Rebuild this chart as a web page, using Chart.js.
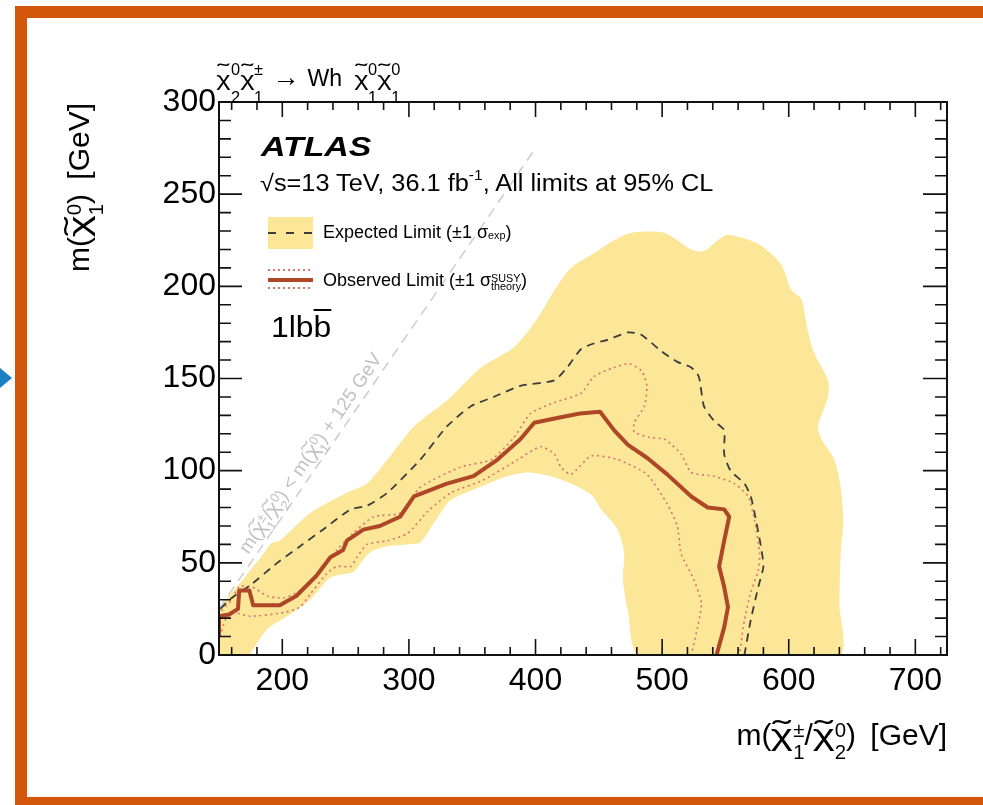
<!DOCTYPE html>
<html lang="en">

<head>
    <meta charset="UTF-8">
    <title>Wh exclusion limits</title>
    <script src="https://cdn.jsdelivr.net/npm/chart.js"></script>
    <style>
        body { margin: 0; background: #fff; }
        #wrap { position: relative; width: 983px; height: 805px; overflow: hidden;
                font-family: "Liberation Sans", Arial, Helvetica, sans-serif; color: #000; }
        canvas { position: absolute; left: 0; top: 0; }
        .abs { position: absolute; white-space: nowrap; line-height: 1; }
        .frame { position: absolute; background: #d4560b; }
        #arrow { position: absolute; left: 0; top: 368px; width: 0; height: 0;
                 border-top: 10px solid transparent; border-bottom: 10px solid transparent;
                 border-left: 12px solid #1b7fc3; }
        /* chi with a tilde on top (ROOT's symbol chi is wide, so stretch it a bit) */
        .chi { position: relative; display: inline-block; line-height: 1; font-size: var(--cs, 1em);
               transform: scaleX(var(--sx, 1.35)); margin: 0 var(--cm, 0.09em); }
        .chi::before { content: "\02DC"; position: absolute; left: 0; right: 0; text-align: center;
                       top: var(--t, -0.15em); transform: scaleX(1.3); }
        /* stacked super/subscript */
        .ss { display: inline-grid; font-size: var(--f, 0.68em); line-height: 1; }
        .ss > span { grid-area: 1 / 1; position: relative; }
        .ss > .u { top: var(--u, -8px); }
        .ss > .d { top: var(--d, 12px); }
        .leg-box { position: absolute; left: 268px; top: 217px; width: 45px; height: 32px; background: #fce697; }
        .dash { position: absolute; left: 268px; top: 232px; width: 45px; height: 2px;
                background: repeating-linear-gradient(90deg, #3c3c3c 0 8px, transparent 8px 18px); }
        .solid { position: absolute; left: 268px; top: 278px; width: 45px; height: 4px; background: #ae4628; }
        .dots { position: absolute; left: 268px; width: 45px; height: 2px;
                background: repeating-linear-gradient(90deg, #d8746a 0 2px, transparent 2px 5px); }
    </style>
    <script>
        // expected +-1 sigma band: outer edge left to right, then inner edge back to the left
        const bandX = [150, 150, 169, 184, 192, 198, 222, 251, 267, 283, 304, 330, 357, 383, 401, 415, 428, 446, 462, 475,
            502, 523, 533, 544, 552, 576, 594, 602, 610, 615, 620, 631, 631, 623, 626, 636, 641, 643, 641, 640, 640,
            482, 473, 469, 470, 465, 452, 444, 428, 412, 394, 378, 359, 333, 320, 309, 298, 283, 270, 262, 256, 238,
            222, 204, 188, 174];
        const bandY = [0, 24, 41, 54, 61, 62, 77, 88, 93, 106, 124, 138, 156, 167, 182, 198, 210, 218, 225, 229,
            229, 220, 219, 225, 228, 223, 212, 198, 193, 176, 164, 149, 140, 124, 117, 106, 91, 73, 55, 28, 0,
            0, 24, 41, 55, 68, 79, 87, 93, 97, 99, 97, 92, 84, 72, 61, 60, 59, 56, 50, 45, 42,
            30, 21, 14, 0];

        // expected limit (dashed)
        const expX = [151, 160, 175, 196, 214, 232, 254, 267, 283, 309, 330, 349, 367, 388, 415, 425, 436, 446, 457, 473,
            483, 499, 512, 523, 529, 533, 541, 549, 549, 554, 565, 570, 573, 578, 580, 576, 570, 565];
        const expY = [25, 31, 38, 50, 59, 68, 79, 81, 88, 106, 124, 135, 140, 146, 149, 156, 166, 169, 171, 175,
            174, 165, 159, 156, 151, 135, 127, 122, 109, 100, 93, 86, 77, 59, 48, 37, 19, 0];

        // observed limit (solid)
        const obsX = [150, 150, 158, 165, 166, 174, 177, 198, 211, 227, 238, 248, 251, 264, 277, 293, 304, 330, 351, 370,
            388, 399, 420, 435, 451, 462, 473, 488, 504, 523, 536, 549, 553, 549, 545, 549, 552, 549, 543];
        const obsY = [10, 21, 22, 25, 35, 35, 27, 27, 32, 43, 53, 57, 62, 68, 70, 75, 86, 93, 97, 106,
            117, 126, 129, 131, 132, 122, 114, 107, 98, 86, 80, 79, 75, 62, 48, 37, 26, 15, 0];

        // observed +1 sigma theory (dotted)
        const obsUpX = [152, 160, 166, 176, 188, 201, 214, 230, 243, 256, 272, 293, 309, 341, 365, 383, 396, 415, 436, 446,
            462, 474, 484, 488, 486, 478, 478, 490, 502, 515, 523, 541, 557, 568, 573, 577, 576, 570, 565, 561];
        const obsUpY = [24, 30, 37, 37, 32, 31, 35, 46, 57, 66, 75, 77, 91, 102, 106, 118, 131, 137, 142, 151,
            156, 158, 154, 146, 135, 126, 121, 118, 117, 109, 99, 97, 93, 86, 73, 55, 46, 34, 19, 0];

        // observed -1 sigma theory (dotted)
        const obsDnX = [151, 155, 161, 175, 201, 214, 222, 235, 243, 254, 259, 267, 283, 299, 315, 333, 359, 386, 404, 415,
            420, 428, 444, 465, 488, 504, 512, 515, 525, 531, 528, 523];
        const obsDnY = [10, 19, 23, 21, 23, 26, 33, 44, 48, 48, 53, 60, 62, 66, 78, 88, 95, 106, 113, 109,
            102, 98, 108, 106, 98, 82, 70, 55, 41, 28, 15, 0];

        // kinematic boundary m(chargino) = m(lsp) + 125
        const diagX = [150, 400];
        const diagY = [25, 275];

        // axis ticks
        const xMajor = [200, 300, 400, 500, 600, 700];
        const yMajor = [0, 50, 100, 150, 200, 250, 300];
    </script>
</head>

<body>
    <div id="wrap">
        <canvas id="myChart" width="983" height="805"></canvas>

        <div class="frame" style="left:15px;top:6px;width:968px;height:12px"></div>
        <div class="frame" style="left:15px;top:6px;width:12px;height:799px"></div>
        <div class="frame" style="left:15px;top:797px;width:968px;height:8px"></div>
        <div id="arrow"></div>

        <div class="abs" style="left:217px;top:63px;font-size:21px;--t:-0.36em;--cs:1em;--sx:1.3;--cm:0.07em">
            <span class="chi">χ</span><span class="ss" style="--f:0.78em;--u:-11px;--d:17px"><span class="u">0</span><span class="d">2</span></span><span class="chi">χ</span><span class="ss" style="--f:0.78em;--u:-11px;--d:17px"><span class="u">±</span><span class="d">1</span></span><span style="margin-left:9px;font-size:1.3em">→</span><span style="margin-left:8px;font-size:1.1em">Wh</span><span style="margin-left:12px"></span><span class="chi">χ</span><span class="ss" style="--f:0.78em;--u:-11px;--d:17px"><span class="u">0</span><span class="d">1</span></span><span class="chi">χ</span><span class="ss" style="--f:0.78em;--u:-11px;--d:17px"><span class="u">0</span><span class="d">1</span></span>
        </div>

        <div class="abs" style="left:261px;top:133px;font-size:28px;font-weight:bold;font-style:italic;transform:scaleX(1.21);transform-origin:0 0">ATLAS</div>
        <div class="abs" style="left:260px;top:172px;font-size:23px;transform:scaleX(1.1);transform-origin:0 0">√s=13 TeV, 36.1 fb<span style="font-size:0.62em;position:relative;top:-0.75em">-1</span>, All limits at 95% CL</div>

        <div class="leg-box"></div>
        <div class="dash"></div>
        <div class="abs" style="left:323px;top:223px;font-size:18px">Expected Limit (±1 σ<span style="font-size:0.6em;position:relative;top:0.1em">exp</span>)</div>

        <div class="dots" style="top:269px"></div>
        <div class="solid"></div>
        <div class="dots" style="top:287px"></div>
        <div class="abs" style="left:323px;top:271px;font-size:18px">Observed Limit (±1 σ<span class="ss" style="--f:0.6em;--u:-4.5px;--d:3.5px"><span class="u">SUSY</span><span class="d">theory</span></span>)</div>

        <div class="abs" style="left:271px;top:313px;font-size:29px;transform:scaleX(1.1);transform-origin:0 0">1lb<span style="text-decoration:overline">b</span></div>

        <div class="abs" style="left:310px;top:453px;font-size:19px;color:#c2c2c2;--t:-0.15em;--sx:1.2;--cm:0.05em;transform:translate(-50%,-50%) rotate(-55.6deg)">m(<span class="chi">χ</span><span class="ss" style="--u:-6px;--d:7px"><span class="u">±</span><span class="d">1</span></span>/<span class="chi">χ</span><span class="ss" style="--u:-6px;--d:7px"><span class="u">0</span><span class="d">2</span></span>) &lt; m(<span class="chi">χ</span><span class="ss" style="--u:-6px;--d:7px"><span class="u">0</span><span class="d">1</span></span>) + 125 GeV</div>

        <div class="abs" style="left:447px;top:720px;width:500px;text-align:right;font-size:30px;word-spacing:6px;--t:-0.12em;--sx:1.4;--cm:0.1em">m(<span class="chi">χ</span><span class="ss" style="--u:-8px;--d:14px"><span class="u">±</span><span class="d">1</span></span>/<span class="chi">χ</span><span class="ss" style="--u:-8px;--d:14px"><span class="u">0</span><span class="d">2</span></span>) [GeV]</div>

        <div class="abs" style="left:64px;top:403px;width:300px;text-align:right;font-size:30px;word-spacing:6px;--t:-0.12em;--sx:1.4;--cm:0.1em;transform:rotate(-90deg);transform-origin:0 0">m(<span class="chi">χ</span><span class="ss" style="--u:-8px;--d:14px"><span class="u">0</span><span class="d">1</span></span>) [GeV]</div>
    </div>

    <script>
        const pts = (xs, ys) => xs.map((x, i) => ({ x: x, y: ys[i] }));

        // ROOT style frame: box on all four sides, ticks pointing inwards
        const frame = {
            id: 'frame',
            afterDatasetsDraw(chart) {
                const { ctx, chartArea: a, scales: { x, y } } = chart;
                ctx.save();
                ctx.strokeStyle = '#111';
                ctx.lineWidth = 2;
                ctx.strokeRect(a.left, a.top, a.right - a.left, a.bottom - a.top);
                ctx.lineWidth = 1.6;
                ctx.beginPath();
                x.ticks.forEach(t => {
                    const px = x.getPixelForValue(t.value);
                    const big = xMajor.includes(t.value);
                    ctx.moveTo(px, a.bottom); ctx.lineTo(px, a.bottom - (big ? 16 : 8));
                    ctx.moveTo(px, a.top); ctx.lineTo(px, a.top + (big ? 15 : 8));
                });
                y.ticks.forEach(t => {
                    const py = y.getPixelForValue(t.value);
                    const big = yMajor.includes(t.value);
                    ctx.moveTo(a.left, py); ctx.lineTo(a.left + (big ? 23 : 12), py);
                    ctx.moveTo(a.right, py); ctx.lineTo(a.right - (big ? 24 : 12), py);
                });
                ctx.stroke();
                ctx.restore();
            }
        };

        const xTickVals = [];
        for (let v = 160; v <= 720; v += 20) xTickVals.push(v);
        const yTickVals = [];
        for (let v = 0; v <= 300; v += 10) yTickVals.push(v);

        const tickFont = { family: '"Liberation Sans", Arial, sans-serif', size: 32 };

        const ctx = document.getElementById('myChart');
        const myChart = new Chart(ctx, {
            type: 'line',
            data: {
                datasets: [
                    {
                        label: 'Observed', data: pts(obsX, obsY), order: 1,
                        borderColor: '#ae4628', borderWidth: 4, tension: 0, borderJoinStyle: 'round'
                    }, {
                        label: 'Expected', data: pts(expX, expY), order: 2,
                        borderColor: '#3c3c3c', borderWidth: 1.8, borderDash: [8, 6], tension: 0.2
                    }, {
                        label: 'Observed +1 theory', data: pts(obsUpX, obsUpY), order: 3,
                        borderColor: '#d8746a', borderWidth: 1.6, borderDash: [2, 3.5], tension: 0.2
                    }, {
                        label: 'Observed -1 theory', data: pts(obsDnX, obsDnY), order: 3,
                        borderColor: '#d8746a', borderWidth: 1.6, borderDash: [2, 3.5], tension: 0.2
                    }, {
                        label: 'Kinematic limit', data: pts(diagX, diagY), order: 4,
                        borderColor: '#cccccc', borderWidth: 1.5, borderDash: [10, 7]
                    }, {
                        label: 'Expected band', data: pts(bandX, bandY), order: 5,
                        borderWidth: 0, borderColor: 'rgba(0,0,0,0)', backgroundColor: '#fce697',
                        fill: 'shape', tension: 0.25
                    }
                ]
            },
            options: {
                responsive: false,
                animation: false,
                events: [],
                layout: { padding: { left: 149, right: 36, top: 102, bottom: 0 } },
                elements: { point: { radius: 0 } },
                plugins: { legend: { display: false }, tooltip: { enabled: false } },
                scales: {
                    x: {
                        type: 'linear', min: 150, max: 725,
                        afterBuildTicks: s => { s.ticks = xTickVals.map(v => ({ value: v })); },
                        afterFit: s => { s.height = 150; },
                        grid: { display: false, drawTicks: false }, border: { display: false },
                        ticks: {
                            autoSkip: false, maxRotation: 0, padding: 7, color: '#000', font: tickFont,
                            callback: v => xMajor.includes(v) ? v : ''
                        }
                    },
                    y: {
                        type: 'linear', min: 0, max: 300,
                        afterBuildTicks: s => { s.ticks = yTickVals.map(v => ({ value: v })); },
                        afterFit: s => { s.width = 70; },
                        grid: { display: false, drawTicks: false }, border: { display: false },
                        ticks: {
                            autoSkip: false, padding: 3, color: '#000', font: tickFont,
                            callback: v => yMajor.includes(v) ? v : ''
                        }
                    }
                }
            },
            plugins: [frame]
        });
    </script>
</body>

</html>
